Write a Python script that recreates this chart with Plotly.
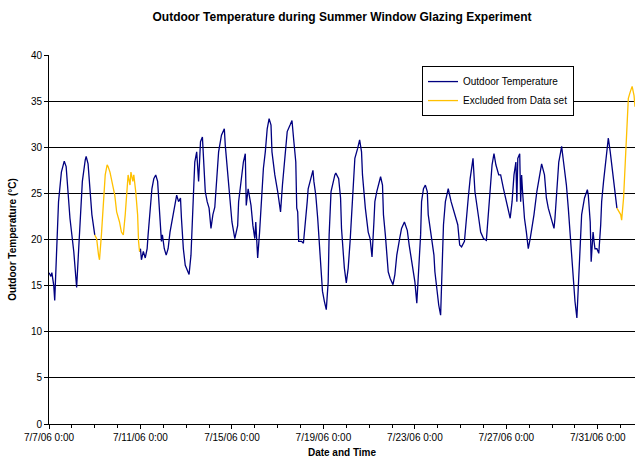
import pandas as pd
import plotly.graph_objects as go

inicio = pd.Timestamp('2006-07-07 00:00')

# horas desde 7/7/06 0:00
horas = [
    0, 2, 3, 5, 6, 8, 10, 13, 16, 18, 20, 22, 26, 28, 29, 31, 33, 35, 38, 39, 41, 43, 45, 48,
    50, 52, 53, 55, 57, 59, 61, 62, 64, 66, 69, 71, 74, 76, 78, 80, 82, 83, 85, 86, 88, 89, 91, 93, 94, 95,
    96, 97, 99, 101, 103, 104, 106, 108, 110, 112,
    114, 115, 117, 118, 119, 121, 123, 125, 127, 130,
    132, 134, 136, 138, 139, 141, 143, 145, 147, 149,
    150, 152, 153, 155, 157, 158, 159, 161, 162, 164,
    166, 168, 170, 172,
    174, 176, 178, 181, 184, 185, 188, 190, 192, 195,
    198, 199, 202, 204, 206, 207, 209, 210, 212, 214,
    216, 217, 218, 219, 221, 223, 225, 227, 229, 231,
    233, 234, 237, 240, 243, 245, 248, 250, 253, 255,
    257, 259, 260, 261, 262, 265,
    267, 269, 271, 272, 275, 277, 278, 280, 282, 284,
    286, 287, 289, 291, 293, 294, 296, 298, 300, 301,
    304, 306, 307, 309, 310, 312, 314, 316, 318, 320,
    321, 324, 326, 328, 329, 332, 335, 337, 339, 341,
    342, 344, 346, 348, 350, 351, 353, 355,
    356, 358, 361, 363, 365, 368, 370, 373, 376, 378,
    381, 384, 386, 388, 390, 391, 393, 395, 397, 398,
    401, 404, 405, 407, 409, 411, 412, 414, 416, 418,
    419, 422, 425, 427, 429, 431, 433, 436, 438, 440,
    442, 444, 445,
    447, 449, 451, 453, 456, 459, 461, 463, 465, 467,
    469, 472, 474, 477, 480, 482, 484, 486, 488, 490,
    491, 492, 494, 495, 496, 497, 499, 501, 503, 505,
    507, 509, 512, 515, 517, 520, 522, 524, 527, 530,
    531, 533, 535, 537, 538, 540, 543, 545, 547, 549,
    551, 552, 554, 556, 558, 559, 562, 565, 566, 568,
    569, 571, 572, 573, 575, 577, 579, 580, 582, 584,
    586, 587, 589, 591, 593, 594, 596,
    598, 600, 601, 603, 605, 607, 608, 610, 612, 614,
    615,
]

temperaturas = [
    16.4, 16.0, 16.4, 15.0, 13.4, 19.0, 24.1, 27.3, 28.5, 27.9, 25.2, 22.3, 18.7, 16.2, 14.8, 18.7, 22.7, 26.3, 28.6, 29.0, 28.2, 25.5, 22.7, 20.5,
    20.1, 18.3, 17.8, 20.5, 24.1, 27.0, 28.1, 27.9, 27.3, 26.3, 24.8, 23.0, 21.9, 20.8, 20.5, 22.7, 25.5, 27.0, 25.9, 27.3, 26.3, 27.0, 25.2, 22.7, 19.8, 18.7,
    19.0, 17.8, 18.7, 18.0, 19.0, 20.5, 22.7, 25.5, 26.6, 27.0,
    26.3, 24.5, 21.9, 19.8, 20.5, 19.0, 18.3, 19.0, 20.8, 22.7,
    23.7, 24.8, 24.1, 24.5, 22.3, 19.0, 17.2, 16.7, 16.2, 18.3,
    21.5, 25.9, 28.4, 29.5, 26.3, 28.8, 30.6, 31.1, 28.8, 25.2,
    24.1, 23.4, 21.2, 22.7,
    23.5, 26.3, 29.5, 31.3, 32.0, 30.2, 27.0, 24.1, 21.9, 20.1,
    21.5, 24.1, 26.6, 28.4, 29.3, 23.7, 25.5, 24.8, 23.7, 21.5,
    20.1, 21.9, 19.8, 18.0, 20.8, 24.5, 27.7, 29.5, 32.0, 33.1,
    32.4, 29.5, 27.0, 25.2, 23.0, 25.9, 29.2, 31.7, 32.4, 32.9,
    30.6, 28.4, 23.4, 23.0, 19.8, 19.8,
    19.6, 21.5, 24.1, 25.5, 26.6, 27.5, 26.3, 24.8, 22.3, 19.0,
    16.2, 14.4, 13.3, 12.4, 15.4, 20.5, 25.2, 26.3, 27.0, 27.2,
    26.6, 24.5, 21.2, 18.3, 16.9, 15.3, 16.9, 19.8, 23.4, 27.3,
    28.8, 29.9, 30.8, 29.5, 27.0, 23.4, 20.8, 20.1, 18.1, 21.9,
    24.1, 25.2, 25.9, 26.8, 25.9, 22.7, 20.5, 18.0,
    16.5, 15.8, 15.1, 16.2, 18.3, 20.1, 21.2, 21.9, 21.0, 19.4,
    17.2, 15.4, 13.1, 16.2, 20.5, 24.1, 25.5, 25.9, 25.2, 22.7,
    20.5, 18.3, 16.5, 14.4, 12.9, 11.8, 16.2, 21.6, 24.1, 25.2,
    25.5, 24.1, 23.0, 22.3, 21.6, 19.4, 19.2, 19.8, 22.7, 24.5,
    26.6, 28.1, 28.8,
    25.2, 23.4, 22.3, 20.8, 20.1, 19.9, 22.7, 26.3, 28.1, 29.3,
    28.1, 27.0, 27.0, 25.5, 24.1, 23.0, 22.3, 24.1, 27.0, 28.4,
    24.1, 28.8, 29.3, 24.1, 27.0, 25.2, 22.3, 20.8, 19.0, 20.1,
    21.2, 22.7, 25.2, 27.3, 28.2, 27.0, 24.5, 23.4, 22.3, 21.2,
    22.3, 25.9, 28.4, 29.5, 30.1, 28.4, 25.9, 23.4, 20.5, 17.6,
    15.4, 13.3, 11.5, 16.2, 19.8, 22.7, 24.5, 25.4, 24.8, 21.9,
    17.6, 20.8, 19.8, 19.0, 19.0, 18.5, 21.6, 24.1, 26.3, 28.4,
    30.2, 31.0, 29.5, 27.7, 26.3, 24.8, 23.4,
    23.0, 22.7, 22.1, 24.5, 28.8, 33.1, 35.3, 36.0, 36.6, 35.6,
    34.4,
]

# trechos excluidos (hora inicial, hora final)
periodos_excluidos = [(48, 95), (596, 615)]

df = pd.DataFrame({'horas': horas, 'temp': temperaturas})
df['data'] = inicio + pd.to_timedelta(df['horas'], unit='h')

excluido = pd.Series(False, index=df.index)
interior = pd.Series(False, index=df.index)
for a, b in periodos_excluidos:
    excluido |= df['horas'].between(a, b)
    interior |= (df['horas'] > a) & (df['horas'] < b)

fig = go.Figure()
fig.add_trace(go.Scatter(
    x=df['data'], y=df['temp'].where(~interior),
    mode='lines', name='Outdoor Temperature',
    line=dict(color='#000080', width=1.3),
))
fig.add_trace(go.Scatter(
    x=df['data'], y=df['temp'].where(excluido),
    mode='lines', name='Excluded from Data set',
    line=dict(color='#FFC000', width=1.3),
))

dia = 24 * 3600 * 1000
fig.update_layout(
    width=635, height=462,
    margin=dict(l=49, r=0, t=55, b=38),
    paper_bgcolor='white', plot_bgcolor='white',
    font=dict(family='Arial, Liberation Sans, sans-serif', size=10, color='black'),
    title=dict(
        text='<b>Outdoor Temperature during Summer Window Glazing Experiment</b>',
        x=0.5, xref='paper', xanchor='center', y=1 - 17 / 462, yanchor='middle',
        font=dict(size=12),
    ),
    showlegend=True,
    legend=dict(
        x=0.6365, y=0.97, xanchor='left', yanchor='top',
        bgcolor='white', bordercolor='black', borderwidth=1,
        font=dict(size=10),
    ),
)
fig.update_xaxes(
    type='date',
    range=[inicio, inicio + pd.Timedelta(hours=615)],
    tick0=inicio, dtick=4 * dia,
    tickformat='%-m/%-d/%y %-H:%M',
    ticks='outside', ticklen=4, tickcolor='black',
    minor=dict(dtick=dia, tick0=inicio, ticks='outside', ticklen=3, tickcolor='black', showgrid=False),
    showline=True, linecolor='black', linewidth=1,
    showgrid=False, zeroline=False,
    title=dict(text='<b>Date and Time</b>', standoff=6, font=dict(size=10)),
)
fig.update_yaxes(
    range=[0, 40], dtick=5,
    ticks='outside', ticklen=4, tickcolor='black',
    showline=True, linecolor='black', linewidth=1,
    showgrid=True, gridcolor='black', gridwidth=1,
    zeroline=False,
    title=dict(text='<b>Outdoor Temperature (°C)</b>', standoff=12, font=dict(size=10)),
)

# tira a margem padrao do body da pagina
fig.write_html('out.html', config={'displayModeBar': False},
               post_script="document.body.style.margin='0';")
